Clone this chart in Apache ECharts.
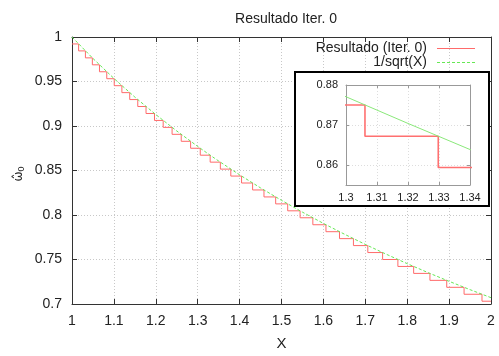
<!DOCTYPE html>
<html>
<head>
<meta charset="utf-8">
<script src="https://cdn.jsdelivr.net/npm/echarts@6/dist/echarts.min.js"></script>
<style>
  html, body { margin: 0; padding: 0; background: #fff; }
  #chart { width: 499px; height: 356px; }
</style>
</head>
<body>
<div id="chart"></div>
<script>
// step result: x where each level starts, and the level
const stepX = [1, 1.01581, 1.03200, 1.04858, 1.06556, 1.08295, 1.10078, 1.11905, 1.13778, 1.15698,
  1.17667, 1.19687, 1.21760, 1.23887, 1.26070, 1.28311, 1.30612, 1.32976, 1.35405, 1.37901,
  1.40466, 1.43104, 1.45817, 1.48608, 1.51479, 1.54435, 1.57478, 1.60612, 1.63840, 1.67167,
  1.70596, 1.74131, 1.77778, 1.81540, 1.85423, 1.89432, 1.93573, 1.97851, 2]
const stepY = [0.99219, 0.98438, 0.97656, 0.96875, 0.96094, 0.95313, 0.94531, 0.9375, 0.92969, 0.92188,
  0.91406, 0.90625, 0.89844, 0.89063, 0.88281, 0.875, 0.86719, 0.85938, 0.85156, 0.84375,
  0.83594, 0.82813, 0.82031, 0.8125, 0.80469, 0.79688, 0.78906, 0.78125, 0.77344, 0.76563,
  0.75781, 0.75, 0.74219, 0.73438, 0.72656, 0.71875, 0.71094, 0.70313, 0.70313]

// reference curve 1/sqrt(X)
const refX = [1, 1.05, 1.1, 1.15, 1.2, 1.25, 1.3, 1.32, 1.34, 1.35, 1.4, 1.45, 1.5, 1.55, 1.6,
  1.65, 1.7, 1.75, 1.8, 1.85, 1.9, 1.95, 2]
const refY = [1, 0.97590, 0.95346, 0.93250, 0.91287, 0.89443, 0.87706, 0.87039, 0.86387, 0.86066,
  0.84515, 0.83045, 0.81650, 0.80322, 0.79057, 0.77850, 0.76696, 0.75593, 0.74536, 0.73521,
  0.72548, 0.71611, 0.70711]

const seriesNames = ['Resultado (Iter. 0)', '1/sqrt(X)']
const insetYTicks = [0.86, 0.87, 0.88]

const zip = (xs, ys) => xs.map((x, i) => [x, ys[i]])
const FONT = 'Liberation Sans'
const RED = '#ff6a6a'
const GREEN = '#66e855'

const myChart = echarts.init(document.getElementById('chart'), null, { renderer: 'canvas' })

const mainX = {
  type: 'value', min: 1, max: 2, interval: 0.1,
  axisLine: { lineStyle: { color: '#333', width: 1 } },
  axisTick: { inside: true, length: 5, lineStyle: { color: '#333' } },
  splitLine: { show: true, lineStyle: { color: '#c8c8c8', type: [1, 2] } },
  axisLabel: { color: '#222', fontFamily: FONT, fontSize: 14, margin: 10 }
}
const mainY = {
  type: 'value', min: 0.7, max: 1, interval: 0.05,
  axisLine: { show: true, lineStyle: { color: '#333', width: 1 } },
  axisTick: { show: true, inside: true, length: 5, lineStyle: { color: '#333' } },
  splitLine: { show: true, lineStyle: { color: '#c8c8c8', type: [1, 2] } },
  axisLabel: { color: '#222', fontFamily: FONT, fontSize: 14, margin: 10 }
}

// hand-made legend, gnuplot style (text left, line sample right)
const legendItems = seriesNames.map((name, i) => {
  const y = 48 + i * 14
  return [
    {
      type: 'text', z: 10, x: 427, y: y,
      style: { text: name, fill: '#222', font: '14px ' + FONT, align: 'right', verticalAlign: 'middle' }
    },
    {
      type: 'line', z: 10,
      shape: { x1: 437, y1: y + 0.5, x2: 475, y2: y + 0.5 },
      style: { stroke: i === 0 ? RED : GREEN, lineWidth: 1, lineDash: i === 0 ? null : [3, 2] }
    }
  ]
}).flat()

const option = {
  animation: false,
  title: {
    text: 'Resultado Iter. 0',
    left: 281, top: 7, textAlign: 'center',
    textStyle: { fontFamily: FONT, fontSize: 14, fontWeight: 'normal', color: '#222' }
  },
  grid: [
    { left: 72, right: 8, top: 37, bottom: 46 },
    { left: 346, right: 29, top: 85, bottom: 171 }
  ],
  graphic: [
    {
      type: 'rect', z: 3,
      shape: { x: 295, y: 72, width: 194, height: 134 },
      style: { fill: '#fff', stroke: '#000', lineWidth: 2 }
    },
    {
      type: 'text', z: 10, x: 19, y: 174, rotation: Math.PI / 2,
      style: {
        text: '{w|ω̂}{s|0}', align: 'center', verticalAlign: 'middle',
        rich: {
          w: { fontFamily: 'DejaVu Sans', fontSize: 12, fill: '#222' },
          s: { fontFamily: FONT, fontSize: 9, fill: '#222', verticalAlign: 'bottom', padding: [5, 0, 0, 0] }
        }
      }
    }
  ].concat(legendItems),
  xAxis: [
    Object.assign({ gridIndex: 0, name: 'X', nameLocation: 'middle', nameGap: 32,
      nameTextStyle: { fontFamily: FONT, fontSize: 15, color: '#222' } }, mainX),
    Object.assign({}, mainX, { gridIndex: 0, position: 'top', axisLabel: { show: false }, splitLine: { show: false } }),
    {
      type: 'value', gridIndex: 1, min: 1.3, max: 1.34, interval: 0.01, z: 4,
      axisLine: { lineStyle: { color: '#999' } },
      axisTick: { inside: true, length: 3, lineStyle: { color: '#999' } },
      splitLine: { show: true, lineStyle: { color: '#ddd', type: [1, 2] } },
      axisLabel: { color: '#222', fontFamily: FONT, fontSize: 11, margin: 7 }
    },
    {
      type: 'value', gridIndex: 1, min: 1.3, max: 1.34, interval: 0.01, z: 4, position: 'top',
      axisLine: { lineStyle: { color: '#999' } },
      axisTick: { inside: true, length: 3, lineStyle: { color: '#999' } },
      splitLine: { show: false }, axisLabel: { show: false }
    }
  ],
  yAxis: [
    Object.assign({ gridIndex: 0 }, mainY),
    Object.assign({}, mainY, { gridIndex: 0, position: 'right', axisLabel: { show: false }, splitLine: { show: false } }),
    {
      type: 'value', gridIndex: 1, min: 0.855, max: 0.88, z: 4,
      axisLine: { show: true, lineStyle: { color: '#999' } },
      axisTick: { show: true, inside: true, length: 3, lineStyle: { color: '#999' }, customValues: insetYTicks },
      splitLine: { show: true, lineStyle: { color: '#ddd', type: [1, 2] }, customValues: insetYTicks },
      axisLabel: { color: '#222', fontFamily: FONT, fontSize: 11, margin: 8, customValues: insetYTicks,
        formatter: v => v.toFixed(2) }
    },
    {
      type: 'value', gridIndex: 1, min: 0.855, max: 0.88, z: 4, position: 'right',
      axisLine: { show: true, lineStyle: { color: '#999' } },
      axisTick: { show: true, inside: true, length: 3, lineStyle: { color: '#999' }, customValues: insetYTicks },
      splitLine: { show: false }, axisLabel: { show: false }
    }
  ],
  series: [
    {
      name: seriesNames[0], type: 'line', xAxisIndex: 0, yAxisIndex: 0,
      step: 'end', symbol: 'none', data: zip(stepX, stepY),
      lineStyle: { color: RED, width: 1 }, itemStyle: { color: RED }, z: 2
    },
    {
      name: seriesNames[1], type: 'line', xAxisIndex: 0, yAxisIndex: 0,
      symbol: 'none', data: zip(refX, refY),
      lineStyle: { color: GREEN, width: 1, type: [3, 2] }, itemStyle: { color: GREEN }, z: 2
    },
    {
      name: 'inset-step', type: 'line', xAxisIndex: 2, yAxisIndex: 2,
      step: 'end', symbol: 'none', data: zip(stepX, stepY), clip: true,
      lineStyle: { color: '#ff7070', width: 1.6 }, z: 6
    },
    {
      name: 'inset-ref', type: 'line', xAxisIndex: 2, yAxisIndex: 2,
      symbol: 'none', data: zip(refX, refY), clip: true,
      lineStyle: { color: '#8ae87a', width: 1 }, z: 6
    }
  ]
}
myChart.setOption(option)
</script>
</body>
</html>
